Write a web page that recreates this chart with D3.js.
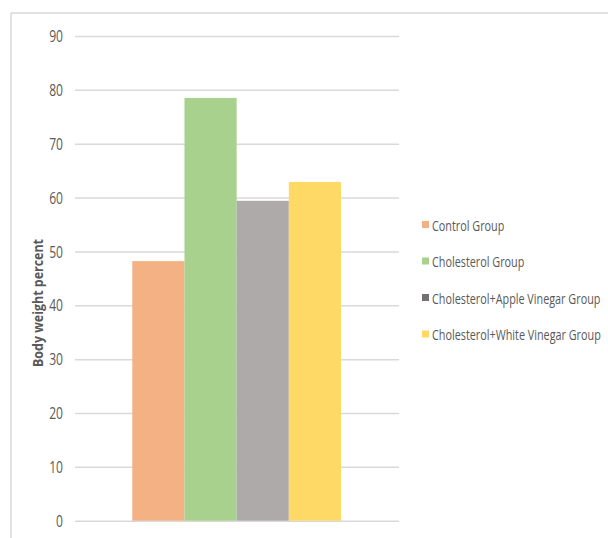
<!DOCTYPE html>
<html><head><meta charset="utf-8">
<script src="https://cdn.jsdelivr.net/npm/d3@7"></script>
<style>body{margin:0;background:#fff}svg{display:block}</style>
</head><body>
<svg id="c" width="608" height="538"></svg>
<script>
const groups = ["Control Group","Cholesterol Group","Cholesterol+Apple Vinegar Group","Cholesterol+White Vinegar Group"];
const values = [48.2, 78.5, 59.4, 62.9];
const barColors = ["#F4B183","#A9D18E","#AEAAAA","#FFD966"];
const legendColors = ["#F4B183","#A9D18E","#767171","#FFD966"];
const yTicks = [0,10,20,30,40,50,60,70,80,90];
const yLabel = "Body weight percent";

const font = "'Open Sans','Liberation Sans',sans-serif";
const svg = d3.select("#c");
function squeeze(sel, s){
  sel.each(function(){ const w=this.getComputedTextLength(); d3.select(this).attr("textLength",w*s).attr("lengthAdjust","spacingAndGlyphs"); });
}
// frame
svg.append("line").attr("x1",11).attr("x2",608).attr("y1",13).attr("y2",13).attr("stroke","#d9d9d9").attr("stroke-width",1.5);
svg.append("line").attr("x1",11).attr("x2",11).attr("y1",13).attr("y2",538).attr("stroke","#d9d9d9").attr("stroke-width",1.5);

const y = d3.scaleLinear().domain([0,90]).range([520.7,36]);
const x = d3.scaleBand().domain(groups).range([132.3,341]).padding(0);

const ax = svg.append("g").attr("transform","translate(75,0)")
  .call(d3.axisLeft(y).tickValues(yTicks).tickSize(-324).tickPadding(12));
ax.select(".domain").remove();
ax.selectAll(".tick line").attr("stroke","#d9d9d9").attr("stroke-width",1.5);
ax.selectAll(".tick text").attr("fill","#595959").attr("font-size",15.5).attr("font-family",font).attr("dy","0.36em");
squeeze(ax.selectAll(".tick text"),0.78);

svg.append("g").selectAll("rect").data(values).join("rect")
  .attr("x",(d,i)=>x(groups[i])).attr("width",x.bandwidth())
  .attr("y",d=>y(d)).attr("height",d=>y(0)-y(d))
  .attr("fill",(d,i)=>barColors[i]);

const yl = svg.append("text").attr("transform","translate(43,303) rotate(-90)")
  .attr("text-anchor","middle").attr("font-family",font).attr("font-weight","bold")
  .attr("font-size",14).attr("fill","#595959").text(yLabel);
yl.attr("textLength",128).attr("lengthAdjust","spacingAndGlyphs");

const lg = svg.append("g").selectAll("g").data(groups).join("g")
  .attr("transform",(d,i)=>`translate(422,${226+i*36.5})`);
lg.append("rect").attr("x",0).attr("y",-5).attr("width",7).attr("height",7).attr("fill",(d,i)=>legendColors[i]);
const lt = lg.append("text").attr("x",0).attr("y",0).attr("dy","0.35em").attr("font-family",font)
  .attr("font-size",14).attr("fill","#595959").text(d=>d);
const maxW = d3.max(lt.nodes(), n=>n.getComputedTextLength());
const s = 169/maxW;
lt.attr("transform",`translate(10,0) scale(${s},1)`);
</script>
</body></html>
